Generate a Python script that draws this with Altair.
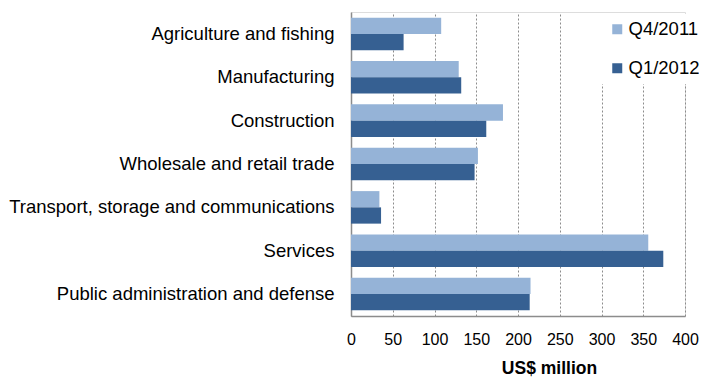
import altair as alt
import pandas as pd

categories = [
    "Agriculture and fishing",
    "Manufacturing",
    "Construction",
    "Wholesale and retail trade",
    "Transport, storage and communications",
    "Services",
    "Public administration and defense",
]
series = ["Q4/2011", "Q1/2012"]
q4_2011 = [108, 129, 182, 152, 34, 356, 215]
q1_2012 = [63, 132, 162, 148, 36, 374, 214]
colors = ["#95B3D7", "#366092"]

rows = []
for c, a, b in zip(categories, q4_2011, q1_2012):
    rows.append({"sector": c, "period": series[0], "value": a})
    rows.append({"sector": c, "period": series[1], "value": b})
df = pd.DataFrame(rows)

font = "Liberation Sans"

chart = alt.Chart(df).mark_bar().encode(
    y=alt.Y("sector:N", sort=categories,
            scale=alt.Scale(paddingInner=0.25, paddingOuter=0.13),
            axis=alt.Axis(title=None, ticks=False, labelPadding=17, labelFontSize=18.5,
                          labelColor="#000000", labelFont=font, domainColor="#8C8C8C",
                          domainWidth=1.5, labelLimit=400, grid=False)),
    yOffset=alt.YOffset("period:N", sort=series,
                        scale=alt.Scale(paddingInner=0, paddingOuter=0)),
    x=alt.X("value:Q", scale=alt.Scale(domain=[0, 400]),
            axis=alt.Axis(title="US$ million", values=list(range(0, 401, 50)),
                          ticks=False, labelPadding=15, labelFontSize=16, labelFont=font,
                          labelFlush=False,
                          labelColor="#000000", titleFont=font, titleFontSize=17.5,
                          titleFontWeight="bold", titleColor="#000000", titlePadding=12,
                          titleX=198, titleAlign="center",
                          domainColor="#8C8C8C", domainWidth=1.5, grid=True,
                          gridColor="#8C8C8C", gridDash=[2, 2], gridWidth=1)),
    color=alt.Color("period:N", sort=series,
                    scale=alt.Scale(domain=series, range=colors),
                    legend=alt.Legend(title=None, orient="none", legendX=251, legendY=2,
                                      symbolType="square", symbolSize=100,
                                      symbolStrokeWidth=0, labelFontSize=18.5, labelFont=font,
                                      labelColor="#000000", labelOffset=2, rowPadding=20,
                                      fillColor="white", padding=6)),
).properties(width=691, height=369,
             autosize=alt.AutoSizeParams(type="fit", contains="padding"),
             padding={"top": 4, "left": 0, "right": 0, "bottom": 0}
).configure_view(stroke=None).configure(background="white")

chart.save("out.html", embed_options={"renderer": "svg", "actions": False})
